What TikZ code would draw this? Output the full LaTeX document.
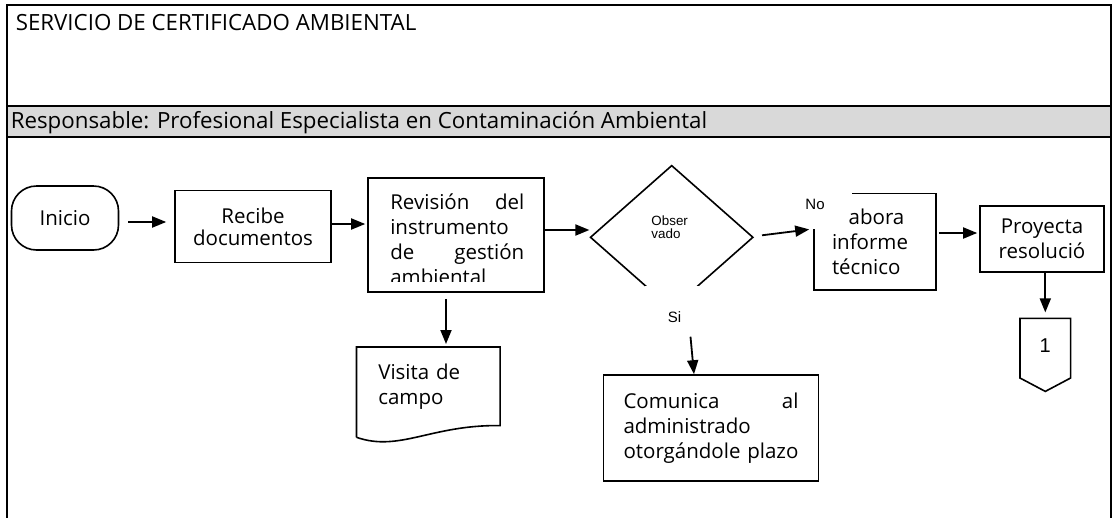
\documentclass[tikz,border=0pt]{standalone}
\usepackage{fontspec}
\setmainfont{Open Sans}
\newfontfamily\arialf{Liberation Sans}
\usetikzlibrary{arrows.meta,shapes.geometric,calc}

\begin{document}
\begin{tikzpicture}[x=1pt, y=-1pt, line width=1.6pt,
	arr/.style={-{Triangle[length=14pt,width=11pt]}, line width=1.8pt},
	caja/.style={draw, rectangle, inner sep=0pt, align=center, font=\fontsize{20.5}{25}\selectfont},
	texto/.style={inner sep=0pt, font=\fontsize{20.5}{25}\selectfont},
	cabecera/.style={inner sep=0pt, anchor=base west, font=\fontsize{22.3}{26}\selectfont},
	etiq/.style={inner sep=0pt, font=\arialf\fontsize{15}{15}\selectfont}]
	
	\useasboundingbox (0,0) rectangle (1114,517);
	
	% --- 1. Marco y cabecera ---
	\fill[gray!30] (7,106) rectangle (1111,137);
	\draw[line width=2pt] (7,530) -- (7,5) -- (1111,5) -- (1111,530);
	\draw[line width=2pt] (7,106) -- (1111,106);
	\draw[line width=2pt] (7,137) -- (1111,137);
	\node[cabecera] (titulo) at (15,30) {SERVICIO DE CERTIFICADO AMBIENTAL};
	\node[cabecera] (resp) at (10,128) {Responsable: Profesional Especialista en Contaminación Ambiental};
	
	% --- 2. Pasos del proceso ---
	\node[caja, rounded corners=25pt, minimum width=107pt, minimum height=64pt] (inicio) at (65,218) {Inicio};
	\node[caja, minimum width=156pt, minimum height=72pt] (recibe) at (253,226.5) {Recibe\\[-3pt]documentos};
	\node[caja, minimum width=176pt, minimum height=114pt] (revision) at (456,235) {};
	\begin{scope}
		\clip (370,180) rectangle (543,281);
		\node[texto, anchor=north west, text width=134pt, align=left] (revtxt) at (389.5,193) {Revisión \hfill del\\instrumento\\de \hfill gestión\\ambiental};
	\end{scope}
	
	% decision (la punta inferior queda tapada por la etiqueta)
	\node[draw, diamond, inner sep=0pt, minimum width=163pt, minimum height=144pt] (obs) at (671.7,237.3) {};
	\node[etiq, align=left, font=\arialf\fontsize{13.4}{13.3}\selectfont] (obstxt) at ($(obs.center)+(-2,-10)$) {Obser\\vado};
	\node[etiq, fill=white, minimum width=60pt, minimum height=61pt] (si) at (674.5,316.7) {Si};
	\node[etiq] (no) at (815,204) {No};
	
	% elabora informe: esquina superior izquierda abierta
	\node[texto, minimum width=120pt, minimum height=95pt, text width=86pt, align=left] (elab) at (875,241.7) {\phantom{el}abora\\informe\\técnico};
	\draw ($(elab.north west)+(38,0)$) -- (elab.north east) -- (elab.south east) -- (elab.south west) -- ($(elab.north west)+(0,36)$);
	
	\node[caja, minimum width=124pt, minimum height=66pt] (proy) at (1042,238.8) {Proyecta\\resolució};
	
	% conector de pagina
	\node[inner sep=0pt, minimum width=49pt, minimum height=58pt, font=\arialf\fontsize{20}{20}\selectfont] (uno) at (1045.3,348.2) {\raisebox{6pt}{1}};
	\draw (uno.north west) -- (uno.north east) -- (uno.south east) -- ($(uno.south)+(0,13.4)$) -- (uno.south west) -- cycle;
	
	% documento
	\node[texto, minimum width=142pt, minimum height=77pt, text width=100pt, align=left] (visita) at (428.3,386.3) {Visita de\\campo};
	\draw ($(visita.south west)+(0,11.7)$) -- (visita.north west) -- (visita.north east) -- (visita.south east)
		.. controls +(-69,-1) and +(43,15) .. ($(visita.south west)+(0,11.7)$);
	
	\node[caja, minimum width=215pt, minimum height=106pt, text width=175pt, align=left] (comunica) at (711,428) {Comunica \hfill al\\administrado\\otorgándole plazo};
	
	% --- 3. Flechas ---
	\draw[arr, shorten <=9pt, shorten >=8pt] (inicio.east |- 0,222) -- (recibe.west |- 0,222);
	\draw[arr, shorten >=2pt] (recibe.east |- 0,224) -- (revision.west |- 0,224);
	\draw[arr] (revision.east |- 0,230) -- (obs.west |- 0,230);
	\draw[arr] ($(obs.east)+(8,-2)$) -- ($(elab.north west)+(-5,36)$);
	\draw[arr, shorten <=3pt, shorten >=2pt] (elab.east |- 0,233) -- (proy.west |- 0,233);
	\draw[arr, shorten >=6pt] (proy.south -| uno.north) -- (uno.north);
	\draw[arr, shorten <=6pt, shorten >=3pt] (revision.south -| 446,0) -- (visita.north -| 446,0);
	\draw[arr] ($(si)+(16,20)$) -- (comunica.north -| 694,0);
	
\end{tikzpicture}
\end{document}
